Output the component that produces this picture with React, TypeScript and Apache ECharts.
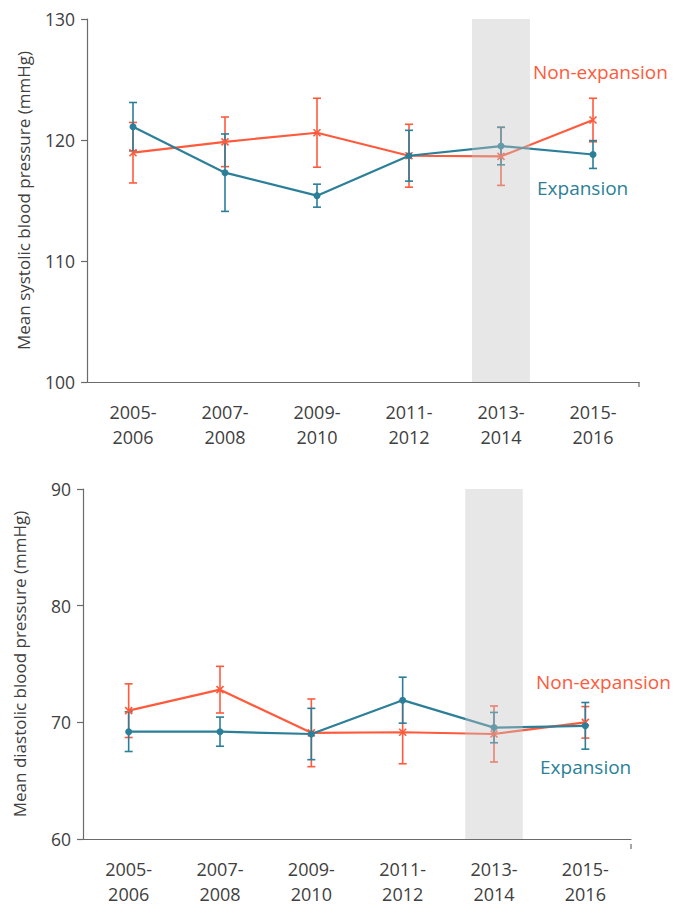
import React, { useEffect, useRef } from "react";
import * as echarts from "echarts";

const categories = ["2005-2006", "2007-2008", "2009-2010", "2011-2012", "2013-2014", "2015-2016"];
const shadedPeriod = "2013-2014";

const sysExpMean = [121.1, 117.3, 115.4, 118.7, 119.5, 118.8];
const sysExpErr = [2.0, 3.2, 0.95, 2.1, 1.55, 1.15];
const sysNonMean = [118.95, 119.85, 120.6, 118.7, 118.65, 121.65];
const sysNonErr = [2.5, 2.05, 2.85, 2.6, 2.4, 1.8];

const diaExpMean = [69.2, 69.2, 69.0, 71.9, 69.55, 69.7];
const diaExpErr = [1.7, 1.25, 2.2, 1.97, 1.3, 2.0];
const diaNonMean = [71.0, 72.8, 69.1, 69.15, 69.0, 70.0];
const diaNonErr = [2.3, 2.0, 2.9, 2.7, 2.4, 1.35];

const sysTicks = { min: 100, max: 130, interval: 10 };
const diaTicks = { min: 60, max: 90, interval: 10 };

const TEAL = "#2b7f98";
const ORANGE = "#ff5a3c";
const AXIS = "#6b6b6b";
const TEXT = "#404040";
const FONT = "Open Sans";
const X_MARK = "path://M0,0L10,10M10,0L0,10";

const grids = [
  { left: 87, top: 19, width: 552, height: 363 },
  { left: 83, top: 489, width: 548, height: 355 },
];

function errData(mean: number[], err: number[]) {
  return mean.map((m, i) => [i, m - err[i], m + err[i]]);
}

function errorSeries(mean: number[], err: number[], color: string, gi: number, z: number) {
  return {
    type: "custom",
    xAxisIndex: gi,
    yAxisIndex: gi,
    z,
    data: errData(mean, err),
    renderItem: (params: any, api: any) => {
      const x = api.value(0);
      const lo = api.coord([x, api.value(1)]);
      const hi = api.coord([x, api.value(2)]);
      const hw = 4;
      const style = { stroke: color, lineWidth: 1.6 };
      return {
        type: "group",
        children: [
          { type: "line", shape: { x1: hi[0], y1: hi[1], x2: lo[0], y2: lo[1] }, style },
          { type: "line", shape: { x1: hi[0] - hw, y1: hi[1], x2: hi[0] + hw, y2: hi[1] }, style },
          { type: "line", shape: { x1: lo[0] - hw, y1: lo[1], x2: lo[0] + hw, y2: lo[1] }, style },
        ],
      };
    },
  };
}

function shadeSeries(gi: number, yMin: number, yMax: number) {
  return {
    type: "custom",
    xAxisIndex: gi,
    yAxisIndex: gi,
    z: 20,
    silent: true,
    data: [[categories.indexOf(shadedPeriod)]],
    renderItem: (params: any, api: any) => {
      const x = api.value(0);
      const top = api.coord([x, yMax]);
      const bot = api.coord([x, yMin]);
      const bw = api.size([1, 0])[0] * 0.63;
      return {
        type: "rect",
        shape: { x: top[0] - bw / 2, y: top[1], width: bw, height: bot[1] - top[1] },
        style: { fill: "rgba(196,196,196,0.4)" },
      };
    },
  };
}

function lineSeries(mean: number[], color: string, gi: number, symbol: string, size: number, z: number) {
  return {
    type: "line",
    xAxisIndex: gi,
    yAxisIndex: gi,
    z,
    data: mean,
    symbol,
    symbolSize: size,
    showSymbol: true,
    lineStyle: { color, width: 2.2 },
    itemStyle: { color, borderColor: color, borderWidth: symbol === "circle" ? 0 : 1.6 },
  };
}

export default function App() {
  const ref = useRef<HTMLDivElement>(null);
  useEffect(() => {
    if (!ref.current) return;
    const chart = echarts.init(ref.current, null, { renderer: "svg" });
    const xAxis = grids.map((g, gi) => ({
      type: "category",
      gridIndex: gi,
      data: categories,
      axisLine: { lineStyle: { color: AXIS, width: 1.2 } },
      axisTick: { alignWithLabel: true, length: 5, lineStyle: { color: AXIS, width: 1.2 } },
      axisLabel: {
        color: TEXT,
        fontFamily: FONT,
        fontSize: 18,
        lineHeight: 25,
        margin: 17,
        formatter: (v: string) => v.replace("-", "-\n"),
      },
    }));
    const ticks = [sysTicks, diaTicks];
    const names = ["Mean systolic blood pressure (mmHg)", "Mean diastolic blood pressure (mmHg)"];
    const yAxis = grids.map((g, gi) => ({
      type: "value",
      gridIndex: gi,
      min: ticks[gi].min,
      max: ticks[gi].max,
      interval: ticks[gi].interval,
      name: names[gi],
      nameLocation: "middle",
      nameGap: 55,
      nameTextStyle: { color: TEXT, fontFamily: FONT, fontSize: 17 },
      splitLine: { show: false },
      axisLine: { show: true, lineStyle: { color: AXIS, width: 1.2 } },
      axisTick: { show: true, length: 6, lineStyle: { color: AXIS, width: 1.2 } },
      axisLabel: { color: TEXT, fontFamily: FONT, fontSize: 17.5, margin: 12 },
    }));
    const series: any[] = [
      errorSeries(sysNonMean, sysNonErr, ORANGE, 0, 3),
      errorSeries(sysExpMean, sysExpErr, TEAL, 0, 4),
      lineSeries(sysNonMean, ORANGE, 0, X_MARK, 7, 5),
      lineSeries(sysExpMean, TEAL, 0, "circle", 7, 6),
      shadeSeries(0, sysTicks.min, sysTicks.max),
      errorSeries(diaNonMean, diaNonErr, ORANGE, 1, 3),
      errorSeries(diaExpMean, diaExpErr, TEAL, 1, 4),
      lineSeries(diaNonMean, ORANGE, 1, X_MARK, 7, 5),
      lineSeries(diaExpMean, TEAL, 1, "circle", 7, 6),
      shadeSeries(1, diaTicks.min, diaTicks.max),
    ];
    const labelStyle = (color: string) => ({ fill: color, font: `19px '${FONT}'` });
    const graphic: any[] = [
      { type: "text", left: 533, top: 62, style: { text: "Non-expansion", ...labelStyle(ORANGE) } },
      { type: "text", left: 537, top: 178, style: { text: "Expansion", ...labelStyle(TEAL) } },
      { type: "text", left: 536, top: 672, style: { text: "Non-expansion", ...labelStyle(ORANGE) } },
      { type: "text", left: 540, top: 757, style: { text: "Expansion", ...labelStyle(TEAL) } },
      ...grids.map((g) => ({
        type: "line",
        shape: { x1: g.left + g.width, y1: g.top + g.height, x2: g.left + g.width, y2: g.top + g.height + 5 },
        style: { stroke: AXIS, lineWidth: 1.2 },
      })),
    ];
    chart.setOption({
      animation: false,
      backgroundColor: "#ffffff",
      grid: grids,
      xAxis,
      yAxis,
      series,
      graphic,
    });
    return () => chart.dispose();
  }, []);
  return <div ref={ref} style={{ position: "absolute", left: 0, top: 0, width: 673, height: 906 }} />;
}
